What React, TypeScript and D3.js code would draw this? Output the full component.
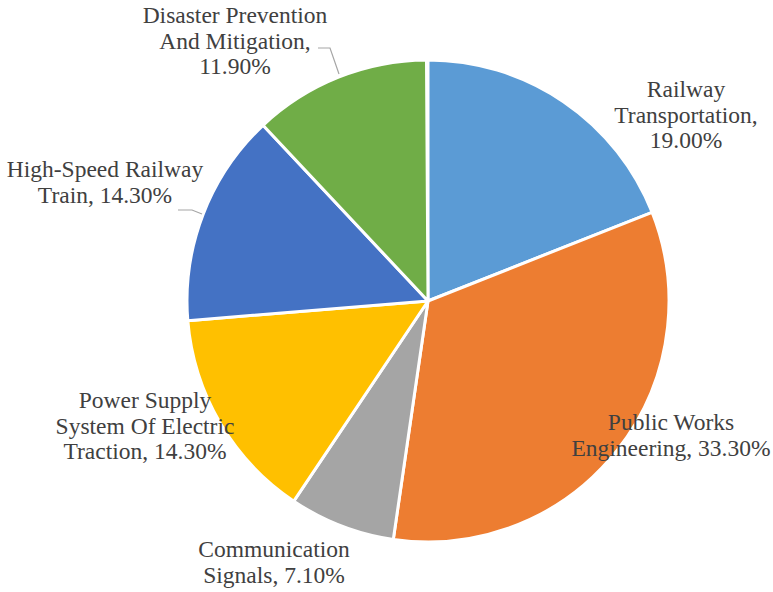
import React from "react";
import * as d3 from "d3";

const categories = [
  "Railway Transportation",
  "Public Works Engineering",
  "Communication Signals",
  "Power Supply System Of Electric Traction",
  "High-Speed Railway Train",
  "Disaster Prevention And Mitigation",
];
const values = [19.0, 33.3, 7.1, 14.3, 14.3, 11.9];
const labelLines = [
  ["Railway", "Transportation,", "19.00%"],
  ["Public Works", "Engineering, 33.30%"],
  ["Communication", "Signals, 7.10%"],
  ["Power Supply", "System Of Electric", "Traction, 14.30%"],
  ["High-Speed Railway", "Train, 14.30%"],
  ["Disaster Prevention", "And Mitigation,", "11.90%"],
];
const colors = ["#5B9BD5", "#ED7D31", "#A5A5A5", "#FFC000", "#4472C4", "#70AD47"];

// label layout: center x, first baseline y (in px)
const labelLayout = [
  { x: 686, y: 97 },
  { x: 671, y: 430 },
  { x: 274, y: 557 },
  { x: 145, y: 408 },
  { x: 105, y: 177 },
  { x: 235, y: 23 },
];
// leader lines (layout only)
const leaders: Record<number, [number, number][]> = {
  4: [[178, 210], [192, 210], [202, 214]],
  5: [[318, 48], [330, 48], [339, 74]],
};

const W = 773;
const H = 592;
const cx = 428;
const cy = 301;
const R = 241;
const lineH = 25.5;
const FONT = "Tinos, 'Nimbus Roman', 'Noto Serif', 'DejaVu Serif'";

export default function App() {
  const pie = d3
    .pie<number>()
    .sort(null)
    .value((d) => d)
    .startAngle(0)
    .endAngle((2 * Math.PI * d3.sum(values)) / 100);
  const arcs = pie(values);
  const arcGen = d3.arc<d3.PieArcDatum<number>>().innerRadius(0).outerRadius(R);
  const line = d3.line();

  return (
    <svg
      width={W}
      height={H}
      style={{ position: "absolute", left: 0, top: 0, background: "#fff" }}
    >
      <g transform={`translate(${cx},${cy})`}>
        {arcs.map((a, i) => (
          <path
            key={categories[i]}
            d={arcGen(a) || ""}
            fill={colors[i]}
            stroke="#fff"
            strokeWidth={3}
            strokeLinejoin="round"
          />
        ))}
      </g>
      {Object.entries(leaders).map(([k, pts]) => (
        <path key={k} d={line(pts) || ""} fill="none" stroke="#A6A6A6" strokeWidth={1.2} />
      ))}
      {labelLines.map((lines, i) => (
        <text
          key={i}
          x={labelLayout[i].x}
          y={labelLayout[i].y}
          textAnchor="middle"
          style={{ fontFamily: FONT, fontSize: "23.5px" }}
          fill="#404040"
        >
          {lines.map((l, j) => (
            <tspan key={j} x={labelLayout[i].x} y={labelLayout[i].y + j * lineH}>
              {l}
            </tspan>
          ))}
        </text>
      ))}
    </svg>
  );
}
